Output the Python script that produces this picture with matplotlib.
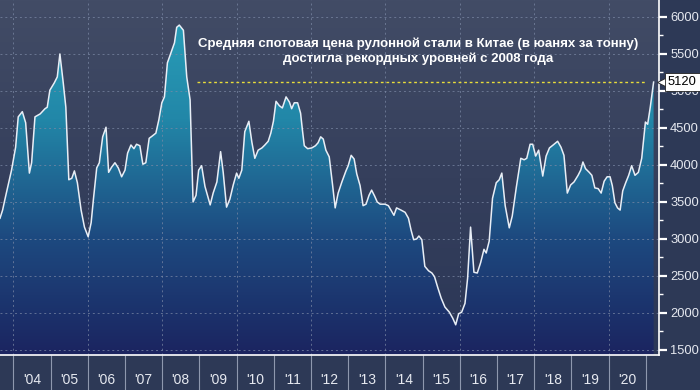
import numpy as np
import matplotlib.pyplot as plt
from matplotlib.colors import LinearSegmentedColormap
from matplotlib.transforms import blended_transform_factory, offset_copy

# %% data (decimal year, yuan per tonne)
years = [2003.64, 2003.71, 2003.77, 2003.86, 2003.95, 2004.06, 2004.13, 2004.24, 2004.33, 2004.43,
         2004.49, 2004.58, 2004.72, 2004.85, 2004.91, 2004.98, 2005.10, 2005.18, 2005.25, 2005.34,
         2005.41, 2005.49, 2005.57, 2005.64, 2005.72, 2005.82, 2005.91, 2006.01, 2006.09, 2006.15,
         2006.24, 2006.31, 2006.40, 2006.49, 2006.56, 2006.64, 2006.73, 2006.82, 2006.91, 2007.00,
         2007.07, 2007.16, 2007.24, 2007.31, 2007.40, 2007.48, 2007.56, 2007.65, 2007.73, 2007.83,
         2007.91, 2007.99, 2008.06, 2008.14, 2008.23, 2008.33, 2008.39, 2008.46, 2008.57, 2008.66,
         2008.75, 2008.83, 2008.91, 2008.98, 2009.06, 2009.15, 2009.29, 2009.37, 2009.47, 2009.57,
         2009.64, 2009.73, 2009.82, 2009.91, 2010.00, 2010.06, 2010.14, 2010.22, 2010.33, 2010.41,
         2010.49, 2010.58, 2010.68, 2010.76, 2010.85, 2010.92, 2010.99, 2011.06, 2011.15, 2011.23,
         2011.33, 2011.42, 2011.48, 2011.55, 2011.64, 2011.72, 2011.77, 2011.82, 2011.91, 2012.02,
         2012.12, 2012.19, 2012.26, 2012.33, 2012.40, 2012.49, 2012.58, 2012.65, 2012.73, 2012.83,
         2012.94, 2013.00, 2013.08, 2013.16, 2013.23, 2013.32, 2013.40, 2013.48, 2013.56, 2013.63,
         2013.71, 2013.78, 2013.86, 2013.99, 2014.08, 2014.15, 2014.23, 2014.30, 2014.42, 2014.53,
         2014.62, 2014.69, 2014.76, 2014.84, 2014.90, 2014.98, 2015.06, 2015.16, 2015.25, 2015.32,
         2015.41, 2015.50, 2015.60, 2015.72, 2015.81, 2015.89, 2015.97, 2016.05, 2016.14, 2016.21,
         2016.29, 2016.38, 2016.47, 2016.56, 2016.65, 2016.71, 2016.79, 2016.88, 2016.98, 2017.06,
         2017.13, 2017.22, 2017.33, 2017.41, 2017.52, 2017.64, 2017.73, 2017.80, 2017.89, 2017.96,
         2018.04, 2018.12, 2018.23, 2018.32, 2018.41, 2018.51, 2018.63, 2018.72, 2018.80, 2018.89,
         2018.98, 2019.07, 2019.18, 2019.25, 2019.31, 2019.38, 2019.48, 2019.55, 2019.63, 2019.72,
         2019.80, 2019.88, 2019.96, 2020.04, 2020.10, 2020.17, 2020.24, 2020.31, 2020.38, 2020.46,
         2020.54, 2020.62, 2020.71, 2020.80, 2020.89, 2020.99, 2021.05, 2021.12, 2021.21]
price = [3280, 3390, 3530, 3730, 3930, 4240, 4650, 4720, 4570, 3890,
         4030, 4650, 4690, 4760, 4780, 5010, 5110, 5190, 5500, 5110,
         4780, 3800, 3820, 3920, 3760, 3390, 3160, 3030, 3220, 3530,
         3960, 4030, 4380, 4510, 3900, 3970, 4030, 3960, 3840, 3930,
         4160, 4270, 4220, 4280, 4260, 4010, 4030, 4360, 4390, 4430,
         4610, 4840, 4920, 5380, 5510, 5650, 5860, 5890, 5820, 5190,
         4880, 3500, 3590, 3930, 3990, 3710, 3460, 3620, 3770, 4180,
         3900, 3430, 3540, 3730, 3890, 3820, 3930, 4450, 4590, 4310,
         4090, 4200, 4230, 4270, 4320, 4430, 4590, 4860, 4800, 4770,
         4920, 4850, 4760, 4840, 4840, 4700, 4470, 4260, 4220, 4230,
         4260, 4300, 4380, 4350, 4200, 4110, 3730, 3420, 3620, 3770,
         3920, 3990, 4130, 4080, 3880, 3720, 3450, 3470, 3590, 3660,
         3580, 3500, 3470, 3470, 3450, 3390, 3320, 3420, 3390, 3360,
         3280, 3120, 2990, 3000, 3040, 2990, 2630, 2570, 2540, 2490,
         2340, 2200, 2080, 2010, 1930, 1840, 1990, 2010, 2130, 2470,
         3160, 2550, 2540, 2680, 2860, 2810, 2970, 3550, 3760, 3800,
         3890, 3450, 3150, 3310, 3700, 4090, 4070, 4090, 4280, 4280,
         4120, 4200, 3850, 4120, 4230, 4270, 4320, 4240, 4130, 3620,
         3730, 3770, 3860, 3930, 4040, 3950, 3900, 3860, 3690, 3680,
         3620, 3780, 3840, 3840, 3720, 3490, 3420, 3390, 3650, 3760,
         3860, 3990, 3860, 3900, 4090, 4580, 4550, 4780, 5120]
if len(years) != len(price):
    raise ValueError(f'{len(years)} years vs {len(price)} prices')

year_ticks = list(range(2004, 2022))
year_labels = ["'%02d" % (y % 100) for y in range(2004, 2021)]
grid_years = list(range(2004, 2021, 2))
price_ticks = list(range(1500, 6001, 500))
price_minor = list(range(1750, 6001, 500))
last_price = 5120
title = ('Средняя спотовая цена рулонной стали в Китае (в юанях за тонну)\n'
         'достигла рекордных уровней с 2008 года')

x_lim = (2003.64, 2021.355)
y_lim = (1432, 6229)
label_font = ['Liberation Sans', 'DejaVu Sans']

# %% figure
fig = plt.figure(figsize=(7, 3.9), dpi=100)
fig.patch.set_facecolor('#2d3956')
ax = fig.add_axes([0, 35 / 390, 659 / 700, 355 / 390])

# background gradient
bg_cmap = LinearSegmentedColormap.from_list('bg', ['#2b3757', '#353f5c', '#424c66'])
grad = np.linspace(0, 1, 256).reshape(-1, 1)
ax.imshow(grad, extent=[x_lim[0], x_lim[1], y_lim[0], y_lim[1]], origin='lower',
          cmap=bg_cmap, aspect='auto', zorder=0)

# area under the line, gradient clipped to the fill
fill = ax.fill_between(years, price, y_lim[0], facecolor='none', edgecolor='none')
fill_cmap = LinearSegmentedColormap.from_list('fill', ['#1b2460', '#1d4a80', '#2287a8', '#2aa2bb'])
im = ax.imshow(grad, extent=[x_lim[0], x_lim[1], y_lim[0], y_lim[1]], origin='lower',
               cmap=fill_cmap, aspect='auto', zorder=1)
im.set_clip_path(fill.get_paths()[0], ax.transData)

ax.plot(years, price, color='#e8eef6', lw=1.1, zorder=3)

# grid
for y in price_ticks:
    ax.axhline(y, color='#7d8aa6', lw=0.7, ls=(0, (2, 3)), alpha=0.7, zorder=2)
for g in grid_years:
    ax.axvline(g, color='#7d8aa6', lw=0.7, ls=(0, (2, 3)), alpha=0.7, zorder=2)

# yellow record line
ax.axhline(last_price, xmin=197 / 659, xmax=647 / 659, color='#e8dc3a', lw=1.0,
           ls=(0, (2, 2)), zorder=4)

ax.set_xlim(*x_lim)
ax.set_ylim(*y_lim)

# axes styling
for side in ['top', 'left']:
    ax.spines[side].set_visible(False)
for side in ['bottom', 'right']:
    ax.spines[side].set_color('white')
    ax.spines[side].set_linewidth(1.2)

ax.yaxis.tick_right()
ax.set_yticks(price_ticks)
ax.set_yticks(price_minor, minor=True)
ax.tick_params(axis='y', which='major', colors='white', length=6, width=1.6, pad=2,
               labelsize=9.3, labelcolor='#e6e9f0')
ax.tick_params(axis='y', which='minor', colors='white', length=3, width=1)
for lab in ax.get_yticklabels():
    lab.set_family(label_font)

ax.set_xticks(year_ticks)
ax.set_xticklabels([])
ax.set_xticks([y + 0.5 for y in range(2004, 2021)], minor=True)
ax.set_xticklabels(year_labels, minor=True)
ax.tick_params(axis='x', which='major', direction='out', length=26, width=0.8, colors='#8e98ae')
ax.tick_params(axis='x', which='minor', length=0, pad=13, labelsize=10, labelcolor='#e6e9f0')
for lab in ax.get_xticklabels(minor=True):
    lab.set_family(label_font)

# last value tag
tr = blended_transform_factory(ax.transAxes, ax.transData)
ax.plot([1.0], [last_price], marker='<', ms=11, color='white', mec='#222222', mew=0.6,
        transform=offset_copy(tr, fig=fig, x=6, y=0, units='dots'), clip_on=False, zorder=9)
ax.text(1.0, last_price, '5120', transform=offset_copy(tr, fig=fig, x=9, y=0, units='dots'),
        ha='left', va='center', color='black', fontsize=9.3, family=label_font,
        bbox=dict(boxstyle='square,pad=0.25', fc='white', ec='#222222', lw=0.6),
        clip_on=False, zorder=10)

fig.text(418 / 700, 1 - 51 / 390, title, ha='center', va='center', color='white',
         fontsize=9.5, fontweight='bold', family=['Liberation Sans', 'DejaVu Sans'],
         linespacing=1.3)

fig.savefig('out.png', dpi=100, facecolor=fig.get_facecolor())
